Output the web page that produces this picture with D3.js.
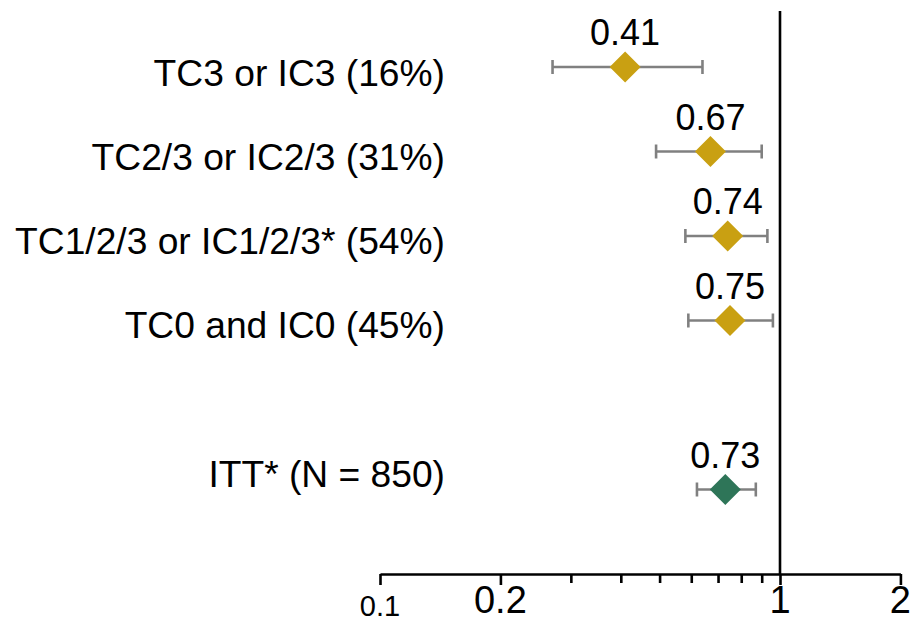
<!DOCTYPE html>
<html>
<head>
<meta charset="utf-8">
<script src="https://cdn.jsdelivr.net/npm/d3@7"></script>
<style>
  html, body { margin: 0; padding: 0; background: #fff; }
  svg { display: block; }
  text { font-family: "Liberation Sans", Arial, Helvetica, sans-serif; fill: #000; }
</style>
</head>
<body>
<svg id="chart" width="914" height="623"></svg>
<script>
// ---- data ----
const categories = ["TC3 or IC3 (16%)", "TC2/3 or IC2/3 (31%)", "TC1/2/3 or IC1/2/3* (54%)", "TC0 and IC0 (45%)", "ITT* (N = 850)"];
const hazardRatios = [0.41, 0.67, 0.74, 0.75, 0.73];
const ciLower = [0.27, 0.49, 0.58, 0.59, 0.62];
const ciUpper = [0.64, 0.90, 0.93, 0.96, 0.87];
const groupType = ["subgroup", "subgroup", "subgroup", "subgroup", "itt"];
const majorTicks = [0.1, 0.2, 1, 2];
const minorTicks = [0.3, 0.4, 0.5, 0.6, 0.7, 0.8, 0.9];

// ---- layout ----
const svg = d3.select("#chart");
const x = d3.scaleLog().domain([0.1, 2]).range([380, 380 + 400 * Math.log10(20)]);
// slot positions: ITT separated by one empty slot
const slots = categories.map((d, i) => i < 4 ? i : 5);
const y = d3.scaleLinear().domain([0, 5]).range([67, 489.5]);
const labelY = d3.scaleLinear().domain([0, 3]).range([86, 338]);
const color = d3.scaleOrdinal().domain(["subgroup", "itt"]).range(["#C9A012", "#2E7558"]);
const axisY = 574;

// reference line at HR = 1
svg.append("line")
  .attr("x1", x(1)).attr("x2", x(1))
  .attr("y1", 11).attr("y2", axisY)
  .attr("stroke", "#000").attr("stroke-width", 2.6);

// x axis (log)
const axisG = svg.append("g").attr("transform", `translate(0,${axisY})`);
axisG.call(d3.axisBottom(x).tickValues(majorTicks).tickSize(11).tickSizeOuter(0).tickFormat(""));
axisG.select(".domain").attr("stroke", "#000").attr("stroke-width", 2.6);
axisG.selectAll(".tick line").attr("stroke", "#000").attr("stroke-width", 2.6);

const minorG = svg.append("g").attr("transform", `translate(0,${axisY})`);
minorG.call(d3.axisBottom(x).tickValues(minorTicks).tickSize(9).tickFormat(""));
minorG.select(".domain").remove();
minorG.selectAll(".tick line").attr("stroke", "#000").attr("stroke-width", 2.6);

// tick labels
svg.append("g").selectAll("text")
  .data(majorTicks)
  .join("text")
  .attr("x", d => x(d))
  .attr("y", d => d === 0.1 ? 616 : 613)
  .attr("text-anchor", "middle")
  .attr("font-size", d => d === 0.1 ? 29 : 38)
  .text(d => String(d));

// row labels
svg.append("g").selectAll("text")
  .data(categories)
  .join("text")
  .attr("x", 445)
  .attr("y", (d, i) => i < 4 ? labelY(i) : 487)
  .attr("text-anchor", "end")
  .attr("font-size", 37.2)
  .text(d => d);

// confidence intervals
const ci = svg.append("g").attr("stroke", "#808080").attr("stroke-width", 2.6).attr("fill", "none");
categories.forEach((c, i) => {
  const yy = y(slots[i]);
  ci.append("line").attr("x1", x(ciLower[i])).attr("x2", x(ciUpper[i])).attr("y1", yy).attr("y2", yy);
  ci.append("line").attr("x1", x(ciLower[i])).attr("x2", x(ciLower[i])).attr("y1", yy - 7).attr("y2", yy + 7);
  ci.append("line").attr("x1", x(ciUpper[i])).attr("x2", x(ciUpper[i])).attr("y1", yy - 7).attr("y2", yy + 7);
});

// diamonds
const r = 15.5;
svg.append("g").selectAll("path")
  .data(hazardRatios)
  .join("path")
  .attr("d", (d, i) => {
    const cx = x(d), cy = y(slots[i]);
    return `M${cx},${cy - r}L${cx + r},${cy}L${cx},${cy + r}L${cx - r},${cy}Z`;
  })
  .attr("fill", (d, i) => color(groupType[i]));

// value labels
svg.append("g").selectAll("text")
  .data(hazardRatios)
  .join("text")
  .attr("x", d => x(d))
  .attr("y", (d, i) => y(slots[i]) - 22)
  .attr("text-anchor", "middle")
  .attr("font-size", 36)
  .text(d => d.toFixed(2));
</script>
</body>
</html>
